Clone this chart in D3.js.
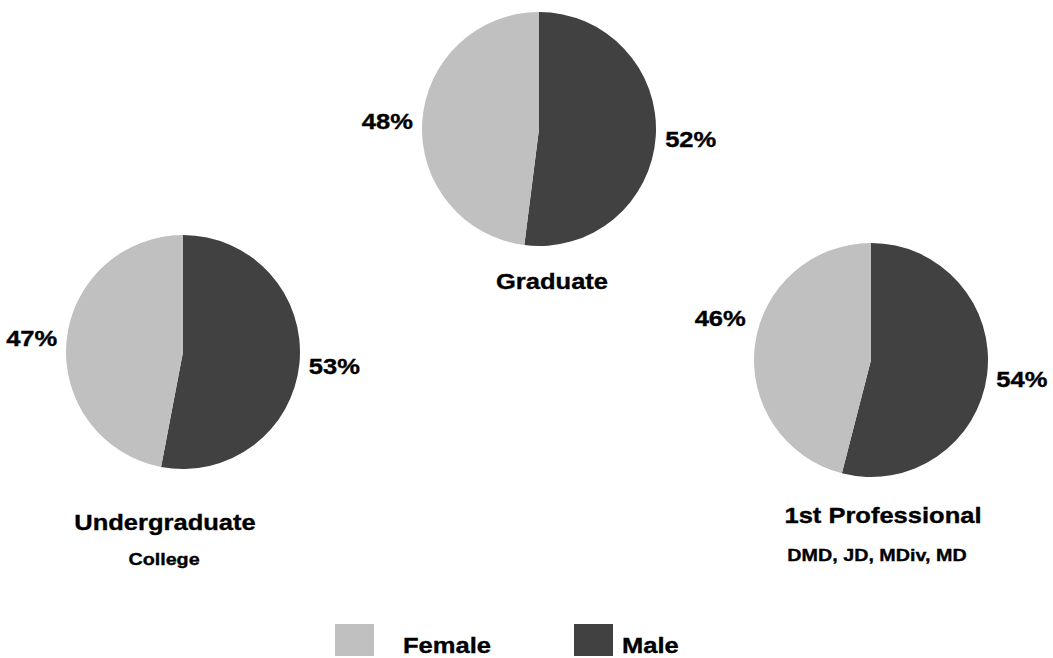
<!DOCTYPE html>
<html>
<head>
<meta charset="utf-8">
<script src="https://cdn.jsdelivr.net/npm/d3@7"></script>
<style>
  body { margin: 0; background: #fff; }
  svg text { font-family: "Liberation Sans", Arial, sans-serif; font-weight: bold; fill: #000; stroke: #000; stroke-width: 0.35px; }
</style>
</head>
<body>
<svg id="chart" width="1053" height="658"></svg>
<script>
// data
const groups = ["Undergraduate", "Graduate", "1st Professional"];
const subtitles = ["College", "", "DMD, JD, MDiv, MD"];
const seriesNames = ["Female", "Male"];
const female = [47, 48, 46];
const male = [53, 52, 54];
const colors = {Female: "#c0c0c0", Male: "#414141"};

// layout
const centers = [[183, 352], [539, 129], [871, 360]];
const radius = 117;
const titlePos = [[165, 530], [552, 289], [883, 523]];
const femaleNudge = [0, 2, -23];   // the 46% label sits higher in the original
const stretch = 1.16;

const svg = d3.select("#chart");

const pie = d3.pie().sort(null).value(d => d.value);
const arc = d3.arc().innerRadius(0).outerRadius(radius);
const labelArc = d3.arc().innerRadius(152).outerRadius(152);

function stretchedText(g, x, y, txt, size, anchor = "middle") {
    return g.append("text")
        .attr("transform", `translate(${x},${y}) scale(${stretch},1)`)
        .attr("text-anchor", anchor)
        .attr("font-size", size)
        .text(txt);
}

groups.forEach((name, i) => {
    // male first so it starts at 12 o'clock going clockwise
    const values = [
        {key: "Male", value: male[i]},
        {key: "Female", value: female[i]}
    ];
    const g = svg.append("g").attr("transform", `translate(${centers[i][0]},${centers[i][1]})`);
    const arcs = pie(values);
    g.selectAll("path.slice")
        .data(arcs)
        .join("path")
        .attr("class", "slice")
        .attr("d", arc)
        .attr("fill", d => colors[d.data.key]);

    arcs.forEach(d => {
        const [lx, ly] = labelArc.centroid(d);
        const dy = d.data.key === "Female" ? femaleNudge[i] : 0;
        stretchedText(g, lx, ly + 8 + dy, d.data.value + "%", 22);
    });

    stretchedText(svg, titlePos[i][0], titlePos[i][1], name, 22);
    if (subtitles[i]) {
        stretchedText(svg, titlePos[i][0] - (i === 0 ? 1 : 6), titlePos[i][1] + (i === 0 ? 35 : 38), subtitles[i], 17);
    }
});

// legend
const legendX = [335, 574];
seriesNames.forEach((s, i) => {
    svg.append("rect")
        .attr("x", legendX[i]).attr("y", 624)
        .attr("width", 39).attr("height", 32)
        .attr("fill", colors[s]);
    stretchedText(svg, legendX[i] + (i === 0 ? 68 : 48), 653, s, 22, "start");
});
</script>
</body>
</html>
